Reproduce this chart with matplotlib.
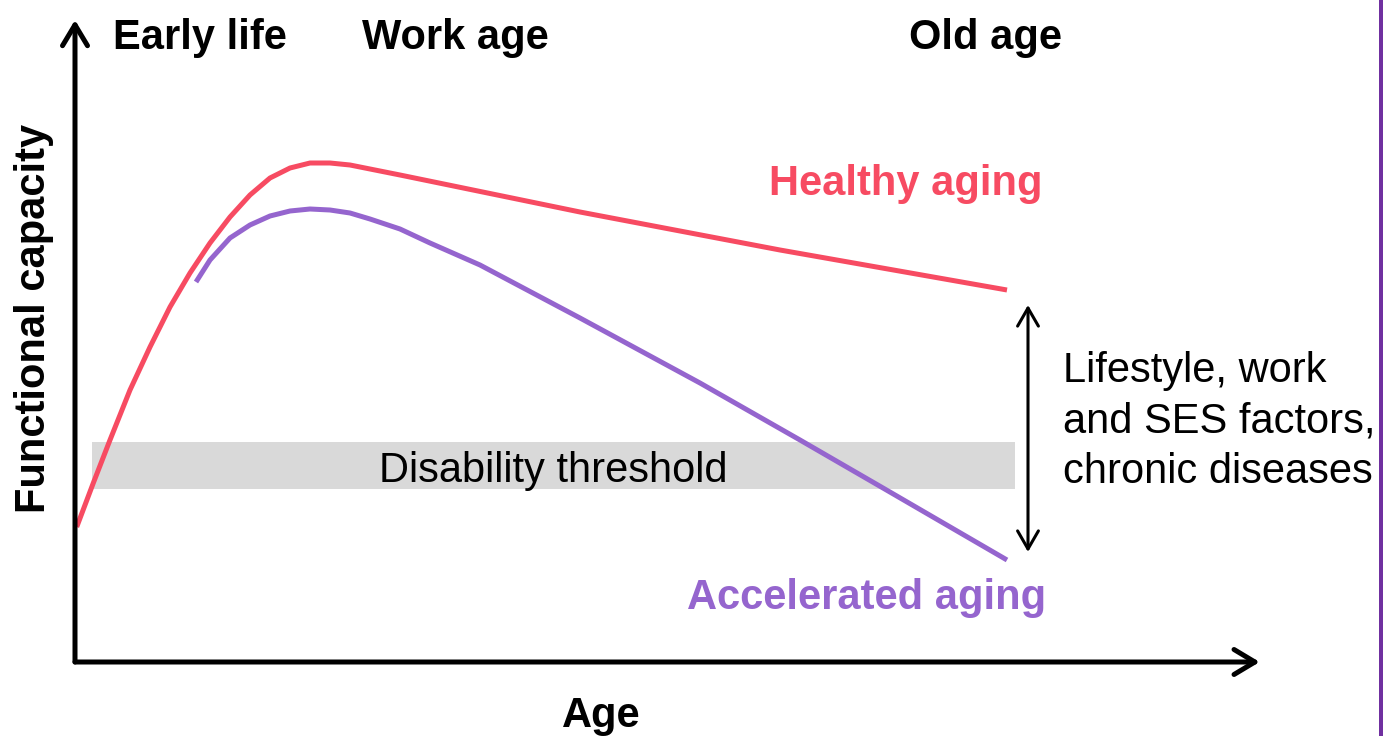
import matplotlib.pyplot as plt
from matplotlib.lines import Line2D

plt.rcParams['font.family'] = ['Liberation Sans', 'DejaVu Sans']

# Healthy aging curve (age, functional capacity)
healthy_age = [0.17, 1.83, 3.5, 5.5, 7.5, 9.5, 11.5, 13.5, 15.5, 17.5, 19.5, 21.5,
               23.5, 25.5, 27.5, 32.5, 50.5, 70.5, 93.2]
healthy_cap = [13.5, 17.9, 22.2, 27.2, 31.5, 35.5, 38.9, 41.9, 44.5, 46.7, 48.4, 49.4,
               49.9, 49.9, 49.7, 48.7, 45.0, 41.2, 37.2]

# Accelerated aging curve
accel_age = [12.1, 13.5, 15.5, 17.5, 19.5, 21.5, 23.5, 25.5, 27.5, 29.5, 32.5, 35.5,
             40.5, 50.5, 62.5, 72.5, 80.8, 93.2]
accel_cap = [38.0, 40.2, 42.4, 43.7, 44.6, 45.1, 45.3, 45.2, 44.9, 44.3, 43.3, 41.9,
             39.7, 34.4, 27.9, 22.2, 17.4, 10.2]

# Disability threshold band
band_age = [1.7, 94.0]
band_low = 17.3
band_high = 22.0

# gap arrow between the two curves at old age
gap_age = 95.3
gap_top = 35.7
gap_bottom = 11.0

stage_labels = ['Early life', 'Work age', 'Old age']
factor_lines = ['Lifestyle, work', 'and SES factors,', 'chronic diseases']

RED = '#F74B62'
PURPLE = '#9565CE'
FS = 30

W, H = 1383, 736
fig = plt.figure(figsize=(W / 100, H / 100), dpi=100)
ax = fig.add_axes([75 / W, (H - 662) / H, (1255 - 75) / W, (662 - 20) / H])
ax.set_xlim(0, 118)
ax.set_ylim(0, 64.2)
ax.axis('off')

ax.fill_between(band_age, band_low, band_high, color='#D9D9D9', lw=0, zorder=1)

ax.plot(healthy_age, healthy_cap, color=RED, lw=3.6, solid_capstyle='butt',
        solid_joinstyle='round', zorder=3)
ax.plot(accel_age, accel_cap, color=PURPLE, lw=3.6, solid_capstyle='butt',
        solid_joinstyle='round', zorder=3)

# axes drawn as arrows
arrow_kw = dict(arrowstyle='->,head_length=1.5,head_width=0.9', mutation_scale=10,
                lw=3.6, color='black', shrinkA=0, shrinkB=0,
                capstyle='round', joinstyle='round')
ax.annotate('', xy=(1.004, 0), xytext=(0, 0), xycoords='axes fraction',
            arrowprops=arrow_kw, annotation_clip=False)
ax.annotate('', xy=(0, 1.0), xytext=(0, 0), xycoords='axes fraction',
            arrowprops=arrow_kw, annotation_clip=False)

ax.annotate('', xy=(gap_age, gap_top), xytext=(gap_age, gap_bottom),
            arrowprops=dict(arrowstyle='<->,head_length=1.3,head_width=0.75',
                            mutation_scale=10, lw=2.2, color='black',
                            shrinkA=0, shrinkB=0),
            annotation_clip=False)


def ftext(x, y, s, **kw):
    fig.text(x / W, 1 - y / H, s, fontsize=FS, **kw)


ftext(553, 482, 'Disability threshold', ha='center', va='baseline', zorder=2)
ftext(200, 49, stage_labels[0], fontweight='bold', ha='center', va='baseline')
ftext(455, 49, stage_labels[1], fontweight='bold', ha='center', va='baseline')
ftext(985, 49, stage_labels[2], fontweight='bold', ha='center', va='baseline')
ftext(906, 195, 'Healthy aging', fontweight='bold', color=RED, ha='center', va='baseline')
ftext(867, 609, 'Accelerated aging', fontweight='bold', color=PURPLE, ha='center', va='baseline')
ftext(601, 727, 'Age', fontweight='bold', ha='center', va='baseline')
ftext(45, 318, 'Functional capacity', fontweight='bold', rotation=90,
      rotation_mode='anchor', ha='center', va='baseline')

for i, line in enumerate(factor_lines):
    ftext(1063, 382 + i * 50.5, line, ha='left', va='baseline')

fig.add_artist(Line2D([1380.5 / W, 1380.5 / W], [0, 1], color='#7030A0', lw=3.6))

fig.savefig('out.png', dpi=100)
